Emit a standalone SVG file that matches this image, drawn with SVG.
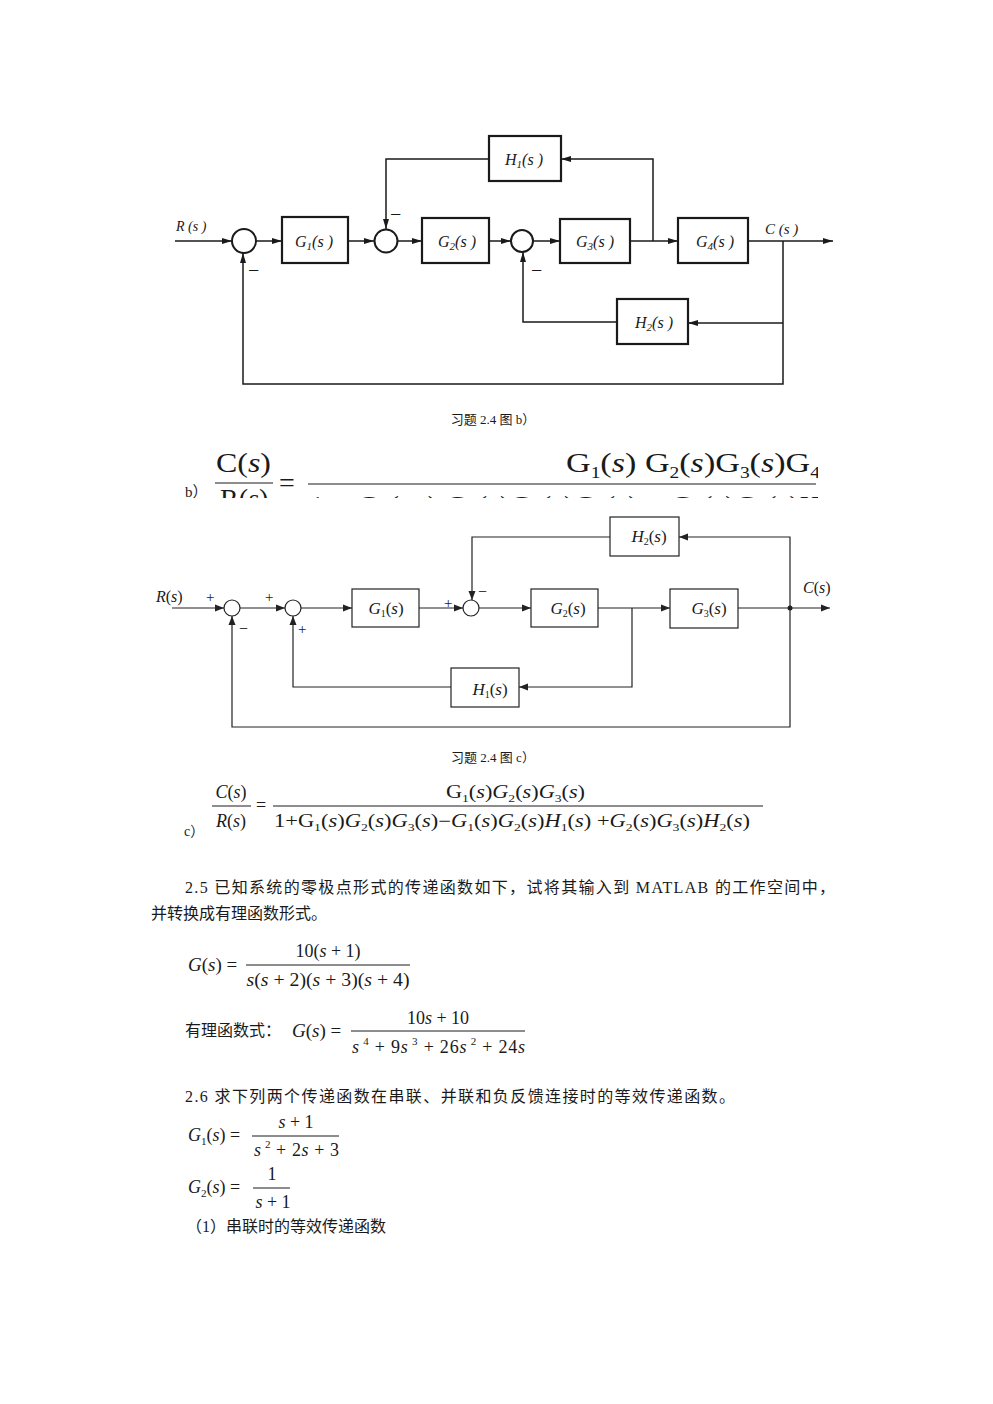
<svg xmlns="http://www.w3.org/2000/svg" width="993" height="1404" viewBox="0 0 993 1404">
<style>
.bg{fill:#fff}
.lb{fill:none;stroke:#1a1a1a;stroke-width:1.5}
.bx{fill:none;stroke:#1a1a1a;stroke-width:2.2}
.cb{fill:none;stroke:#1a1a1a;stroke-width:2}
.lc{fill:none;stroke:#222;stroke-width:1.2}
.bxc{fill:#fff;stroke:#222;stroke-width:1.2}
.ti{font-family:"Liberation Serif",serif;font-style:italic;fill:#1a1a1a}
.tr{font-family:"Liberation Serif",serif;fill:#1a1a1a}
.cn{font-family:"Liberation Serif","Noto Sans CJK SC",serif;fill:#1a1a1a}
.it{font-style:italic}
.up{font-style:normal}
.fl{stroke:#1a1a1a;stroke-width:1}
</style>
<defs>
<marker id="ab" markerUnits="userSpaceOnUse" markerWidth="10" markerHeight="8" refX="10" refY="4" orient="auto"><path d="M0,1 L10,4 L0,7 z" fill="#1a1a1a"/></marker>
<marker id="ac" markerUnits="userSpaceOnUse" markerWidth="9" markerHeight="8" refX="9" refY="4" orient="auto"><path d="M0,0.5 L9,4 L0,7.5 z" fill="#222"/></marker>
<clipPath id="clipb"><rect x="0" y="440" width="818" height="58"/></clipPath>
</defs>
<rect class="bg" x="0" y="0" width="993" height="1404"/>

<!-- Diagram b -->
<g id="b-connectors">
<path class="lb" d="M175,241 H232" marker-end="url(#ab)"/>
<path class="lb" d="M256,241 H282" marker-end="url(#ab)"/>
<path class="lb" d="M348,241 H374" marker-end="url(#ab)"/>
<path class="lb" d="M398,241 H422" marker-end="url(#ab)"/>
<path class="lb" d="M489,241 H511" marker-end="url(#ab)"/>
<path class="lb" d="M533,241 H560" marker-end="url(#ab)"/>
<path class="lb" d="M630,241 H678" marker-end="url(#ab)"/>
<path class="lb" d="M653,241 V159 H561" marker-end="url(#ab)"/>
<path class="lb" d="M489,159 H386 V229" marker-end="url(#ab)"/>
<path class="lb" d="M748,241 H833" marker-end="url(#ab)"/>
<path class="lb" d="M783,241 V384 H243 V253" marker-end="url(#ab)"/>
<path class="lb" d="M783,323 H688" marker-end="url(#ab)"/>
<path class="lb" d="M617,322 H523 V252" marker-end="url(#ab)"/>
</g>
<g id="b-sum1"><circle class="cb" cx="244" cy="241" r="12"/></g>
<g id="b-sum2"><circle class="cb" cx="386" cy="241" r="11.5"/></g>
<g id="b-sum3"><circle class="cb" cx="522" cy="241" r="11"/></g>
<g id="b-G1"><rect class="bx" x="282" y="217" width="66" height="46"/><text class="ti" x="314" y="247" font-size="16" text-anchor="middle">G<tspan font-size="11" dy="3">1</tspan><tspan dy="-3">(s )</tspan></text></g>
<g id="b-G2"><rect class="bx" x="422" y="218" width="67" height="45"/><text class="ti" x="457" y="247" font-size="16" text-anchor="middle">G<tspan font-size="11" dy="3">2</tspan><tspan dy="-3">(s )</tspan></text></g>
<g id="b-G3"><rect class="bx" x="560" y="219" width="70" height="44"/><text class="ti" x="595" y="247" font-size="16" text-anchor="middle">G<tspan font-size="11" dy="3">3</tspan><tspan dy="-3">(s )</tspan></text></g>
<g id="b-G4"><rect class="bx" x="678" y="218" width="70" height="45"/><text class="ti" x="715" y="247" font-size="16" text-anchor="middle">G<tspan font-size="11" dy="3">4</tspan><tspan dy="-3">(s )</tspan></text></g>
<g id="b-H1"><rect class="bx" x="489" y="136" width="72" height="45"/><text class="ti" x="524" y="165" font-size="16" text-anchor="middle">H<tspan font-size="11" dy="3">1</tspan><tspan dy="-3">(s )</tspan></text></g>
<g id="b-H2"><rect class="bx" x="617" y="299" width="71" height="45"/><text class="ti" x="654" y="328" font-size="16" text-anchor="middle">H<tspan font-size="11" dy="3">2</tspan><tspan dy="-3">(s )</tspan></text></g>
<g id="b-labels">
<text class="ti" x="176" y="231" font-size="14">R (s )</text>
<text class="ti" x="765" y="234" font-size="15">C (s )</text>
<text class="tr" x="390" y="221" font-size="20">−</text>
<text class="tr" x="248" y="277" font-size="20">−</text>
<text class="tr" x="531" y="277" font-size="20">−</text>
<text class="cn" x="493" y="424" font-size="13" text-anchor="middle">习题 2.4 图 b）</text>
</g>

<!-- Formula b (clipped) -->
<g id="formula-b">
<text class="cn" x="185" y="497" font-size="15">b）</text>
<g clip-path="url(#clipb)">
<text class="tr" x="216" y="472" font-size="28" textLength="55" lengthAdjust="spacingAndGlyphs">C(<tspan class="it">s</tspan>)</text>
<line class="fl" x1="215" y1="483" x2="273" y2="483" stroke-width="1.5"/>
<text class="tr" x="220" y="508" font-size="28">R(<tspan class="it">s</tspan>)</text>
<text class="tr" x="279" y="492" font-size="28">=</text>
<line class="fl" x1="308" y1="484" x2="816" y2="484" stroke-width="1.5"/>
<text class="tr" x="566" y="472" font-size="28" textLength="254" lengthAdjust="spacingAndGlyphs">G<tspan font-size="16" dy="6">1</tspan><tspan dy="-6">(</tspan><tspan class="it">s</tspan>)  G<tspan font-size="16" dy="6">2</tspan><tspan dy="-6">(</tspan><tspan class="it">s</tspan>)G<tspan font-size="16" dy="6">3</tspan><tspan dy="-6">(</tspan><tspan class="it">s</tspan>)G<tspan font-size="16" dy="6">4</tspan></text>
<text class="tr" x="310" y="515" font-size="28" textLength="510" lengthAdjust="spacing">1 + G<tspan font-size="18" dy="5">1</tspan><tspan dy="-5">( s )  G</tspan><tspan font-size="18" dy="5">2</tspan><tspan dy="-5">(s)G</tspan><tspan font-size="18" dy="5">3</tspan><tspan dy="-5">(s)G</tspan><tspan font-size="18" dy="5">4</tspan><tspan dy="-5">(s) + G</tspan><tspan font-size="18" dy="5">2</tspan><tspan dy="-5">(s)G</tspan><tspan font-size="18" dy="5">3</tspan><tspan dy="-5">(s)H</tspan></text>
</g>
</g>

<!-- Diagram c -->
<g id="c-connectors">
<path class="lc" d="M172,608 H224" marker-end="url(#ac)"/>
<path class="lc" d="M240,608 H285" marker-end="url(#ac)"/>
<path class="lc" d="M301,608 H352" marker-end="url(#ac)"/>
<path class="lc" d="M419,608 H463" marker-end="url(#ac)"/>
<path class="lc" d="M479,608 H531" marker-end="url(#ac)"/>
<path class="lc" d="M598,608 H670" marker-end="url(#ac)"/>
<path class="lc" d="M738,608 H830" marker-end="url(#ac)"/>
<path class="lc" d="M632,608 V687 H519" marker-end="url(#ac)"/>
<path class="lc" d="M451,687 H293 V616" marker-end="url(#ac)"/>
<path class="lc" d="M790,608 V537 H679" marker-end="url(#ac)"/>
<path class="lc" d="M610,537 H472 V600" marker-end="url(#ac)"/>
<path class="lc" d="M790,608 V727 H232 V616" marker-end="url(#ac)"/>
<circle cx="790" cy="608" r="2.5" fill="#222"/>
</g>
<g id="c-sum1"><circle class="bxc" cx="232" cy="608" r="8"/></g>
<g id="c-sum2"><circle class="bxc" cx="293" cy="608" r="8"/></g>
<g id="c-sum3"><circle class="bxc" cx="471" cy="608" r="8"/></g>
<g id="c-G1"><rect class="bxc" x="352" y="589" width="67" height="38"/><text class="ti" x="386" y="614" font-size="17" text-anchor="middle">G<tspan class="up" font-size="10" dy="3">1</tspan><tspan class="up" dy="-3">(</tspan>s<tspan class="up">)</tspan></text></g>
<g id="c-G2"><rect class="bxc" x="531" y="589" width="67" height="38"/><text class="ti" x="568" y="614" font-size="17" text-anchor="middle">G<tspan class="up" font-size="10" dy="3">2</tspan><tspan class="up" dy="-3">(</tspan>s<tspan class="up">)</tspan></text></g>
<g id="c-G3"><rect class="bxc" x="670" y="589" width="68" height="39"/><text class="ti" x="709" y="614" font-size="17" text-anchor="middle">G<tspan class="up" font-size="10" dy="3">3</tspan><tspan class="up" dy="-3">(</tspan>s<tspan class="up">)</tspan></text></g>
<g id="c-H2"><rect class="bxc" x="610" y="517" width="69" height="39"/><text class="ti" x="649" y="542" font-size="17" text-anchor="middle">H<tspan class="up" font-size="10" dy="3">2</tspan><tspan class="up" dy="-3">(</tspan>s<tspan class="up">)</tspan></text></g>
<g id="c-H1"><rect class="bxc" x="451" y="668" width="68" height="39"/><text class="ti" x="490" y="695" font-size="17" text-anchor="middle">H<tspan class="up" font-size="10" dy="3">1</tspan><tspan class="up" dy="-3">(</tspan>s<tspan class="up">)</tspan></text></g>
<g id="c-labels">
<text class="ti" x="156" y="602" font-size="16">R<tspan class="up">(</tspan>s<tspan class="up">)</tspan></text>
<text class="ti" x="803" y="593" font-size="16">C<tspan class="up">(</tspan>s<tspan class="up">)</tspan></text>
<text class="tr" x="206" y="602" font-size="15">+</text>
<text class="tr" x="265" y="602" font-size="15">+</text>
<text class="tr" x="444" y="608" font-size="15">+</text>
<text class="tr" x="298" y="634" font-size="15">+</text>
<text class="tr" x="239" y="634" font-size="16">−</text>
<text class="tr" x="478" y="597" font-size="16">−</text>
<text class="cn" x="493" y="762" font-size="13" text-anchor="middle">习题 2.4 图 c）</text>
</g>

<!-- Formula c -->
<g id="formula-c">
<text class="cn" x="184" y="836" font-size="14">c）</text>
<text class="tr" x="231" y="798" font-size="18" text-anchor="middle"><tspan class="it">C</tspan>(<tspan class="it">s</tspan>)</text>
<line class="fl" x1="212" y1="806" x2="251" y2="806"/>
<text class="tr" x="231" y="827" font-size="18" text-anchor="middle"><tspan class="it">R</tspan>(<tspan class="it">s</tspan>)</text>
<text class="tr" x="256" y="811" font-size="18">=</text>
<line class="fl" x1="273" y1="806" x2="763" y2="806"/>
<text class="tr" x="446" y="798" font-size="18" textLength="139" lengthAdjust="spacingAndGlyphs">G<tspan font-size="11" dy="4">1</tspan><tspan dy="-4">(</tspan><tspan class="it">s</tspan>)<tspan class="it">G</tspan><tspan font-size="11" dy="4">2</tspan><tspan dy="-4">(</tspan><tspan class="it">s</tspan>)<tspan class="it">G</tspan><tspan font-size="11" dy="4">3</tspan><tspan dy="-4">(</tspan><tspan class="it">s</tspan>)</text>
<text class="tr" x="274" y="827" font-size="18" textLength="476" lengthAdjust="spacingAndGlyphs">1+G<tspan font-size="11" dy="4">1</tspan><tspan dy="-4">(</tspan><tspan class="it">s</tspan>)<tspan class="it">G</tspan><tspan font-size="11" dy="4">2</tspan><tspan dy="-4">(</tspan><tspan class="it">s</tspan>)<tspan class="it">G</tspan><tspan font-size="11" dy="4">3</tspan><tspan dy="-4">(</tspan><tspan class="it">s</tspan>)−<tspan class="it">G</tspan><tspan font-size="11" dy="4">1</tspan><tspan dy="-4">(</tspan><tspan class="it">s</tspan>)<tspan class="it">G</tspan><tspan font-size="11" dy="4">2</tspan><tspan dy="-4">(</tspan><tspan class="it">s</tspan>)<tspan class="it">H</tspan><tspan font-size="11" dy="4">1</tspan><tspan dy="-4">(</tspan><tspan class="it">s</tspan>) +<tspan class="it">G</tspan><tspan font-size="11" dy="4">2</tspan><tspan dy="-4">(</tspan><tspan class="it">s</tspan>)<tspan class="it">G</tspan><tspan font-size="11" dy="4">3</tspan><tspan dy="-4">(</tspan><tspan class="it">s</tspan>)<tspan class="it">H</tspan><tspan font-size="11" dy="4">2</tspan><tspan dy="-4">(</tspan><tspan class="it">s</tspan>)</text>
</g>

<!-- Section 2.5 -->
<g id="sec-2-5">
<text class="cn" x="185" y="893" font-size="16" textLength="650" lengthAdjust="spacing">2.5 已知系统的零极点形式的传递函数如下，试将其输入到 MATLAB 的工作空间中，</text>
<text class="cn" x="151" y="919" font-size="16">并转换成有理函数形式。</text>
<text class="tr" x="188" y="971" font-size="19"><tspan class="it">G</tspan>(<tspan class="it">s</tspan>) =</text>
<text class="tr" x="328" y="957" font-size="18" text-anchor="middle">10(<tspan class="it">s</tspan> + 1)</text>
<line class="fl" x1="246" y1="965" x2="410" y2="965"/>
<text class="tr" x="328" y="986" font-size="18" text-anchor="middle" textLength="163" lengthAdjust="spacingAndGlyphs"><tspan class="it">s</tspan>(<tspan class="it">s</tspan> + 2)(<tspan class="it">s</tspan> + 3)(<tspan class="it">s</tspan> + 4)</text>
<text class="cn" x="185" y="1036" font-size="16">有理函数式：</text>
<text class="tr" x="292" y="1037" font-size="19"><tspan class="it">G</tspan>(<tspan class="it">s</tspan>) =</text>
<text class="tr" x="438" y="1024" font-size="18" text-anchor="middle">10<tspan class="it">s</tspan> + 10</text>
<line class="fl" x1="351" y1="1031" x2="525" y2="1031"/>
<text class="tr" x="352" y="1053" font-size="18" textLength="173" lengthAdjust="spacing"><tspan class="it">s</tspan><tspan font-size="11" dy="-8"> 4</tspan><tspan dy="8"> + 9</tspan><tspan class="it">s</tspan><tspan font-size="11" dy="-8"> 3</tspan><tspan dy="8"> + 26</tspan><tspan class="it">s</tspan><tspan font-size="11" dy="-8"> 2</tspan><tspan dy="8"> + 24</tspan><tspan class="it">s</tspan></text>
</g>

<!-- Section 2.6 -->
<g id="sec-2-6">
<text class="cn" x="185" y="1102" font-size="16" textLength="550" lengthAdjust="spacing">2.6 求下列两个传递函数在串联、并联和负反馈连接时的等效传递函数。</text>
<text class="tr" x="188" y="1141" font-size="18"><tspan class="it">G</tspan><tspan font-size="11" dy="4">1</tspan><tspan dy="-4">(</tspan><tspan class="it">s</tspan>) =</text>
<text class="tr" x="296" y="1128" font-size="18" text-anchor="middle"><tspan class="it">s</tspan> + 1</text>
<line class="fl" x1="252" y1="1136" x2="339" y2="1136"/>
<text class="tr" x="254" y="1156" font-size="18" textLength="85" lengthAdjust="spacing"><tspan class="it">s</tspan><tspan font-size="11" dy="-8"> 2</tspan><tspan dy="8"> + 2</tspan><tspan class="it">s</tspan> + 3</text>
<text class="tr" x="188" y="1193" font-size="18"><tspan class="it">G</tspan><tspan font-size="11" dy="4">2</tspan><tspan dy="-4">(</tspan><tspan class="it">s</tspan>) =</text>
<text class="tr" x="272" y="1180" font-size="18" text-anchor="middle">1</text>
<line class="fl" x1="253" y1="1188" x2="290" y2="1188"/>
<text class="tr" x="273" y="1208" font-size="18" text-anchor="middle"><tspan class="it">s</tspan> + 1</text>
<text class="cn" x="186" y="1232" font-size="16">（1）串联时的等效传递函数</text>
</g>
</svg>
